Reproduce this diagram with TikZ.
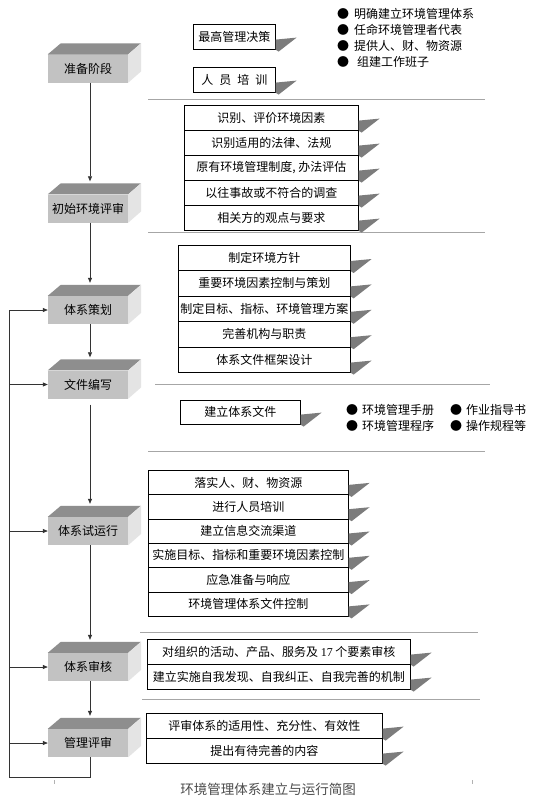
\documentclass[tikz,border=0pt]{standalone}
\usepackage{fontspec}
\setmainfont{Noto Sans CJK SC}
\newfontfamily\latinserif{Liberation Serif}
\usetikzlibrary{arrows.meta}
\definecolor{cubefront}{HTML}{C2C2C2}
\definecolor{cubetop}{HTML}{8E8E8E}
\definecolor{cubeside}{HTML}{E4E4E4}
\definecolor{flagc}{HTML}{7C7C7C}
\definecolor{sepc}{HTML}{A6A6A6}
\newcommand\cubefaces[1]{%
  \fill[cubetop] (#1.north west) -- ++(13pt,11pt) -- ++(80pt,0pt) -- (#1.north east) -- cycle;
  \fill[cubeside] (#1.north east) -- ++(13pt,11pt) -- ++(0pt,-28pt) -- (#1.south east) -- cycle;}
\newcommand\flagat[1]{%
  \fill[flagc] ([yshift=10pt]#1.south east) -- ++(21pt,2pt) -- ++(-18pt,-14pt) -- (#1.south east) -- cycle;}
\newcommand\rowb[6]{%
  \node[rowbox, minimum width=#4pt, minimum height=#5pt] (#1) at (#2,#3) {#6};
  \flagat{#1}}
\begin{document}
\begin{tikzpicture}[x=1pt,y=-1pt,
  txt/.style={font=\fontsize{12}{14}\selectfont},
  cube/.style={txt, fill=cubefront, minimum width=80pt, minimum height=28pt, inner sep=0pt},
  rowbox/.style={txt, draw=black, line width=0.6pt, fill=white, inner sep=0pt, anchor=north west},
  bul/.style={txt, anchor=west, inner sep=0pt},
  arr/.style={draw=black!80, line width=0.7pt, -{Triangle[length=5pt,width=4pt]}},
  ln/.style={draw=black!80, line width=0.7pt},
  sep/.style={draw=sepc, line width=0.8pt}]
\useasboundingbox[fill=white] (0,0) rectangle (541,800);

% stage cubes
\node[cube] (pa) at (88,68.5) {准备阶段}; \cubefaces{pa}
\node[cube] (cs) at (88,208.5) {初始环境评审}; \cubefaces{cs}
\node[cube] (ch) at (88,310) {体系策划}; \cubefaces{ch}
\node[cube] (wj) at (88,384.5) {文件编写}; \cubefaces{wj}
\node[cube] (sy) at (88,531) {体系试运行}; \cubefaces{sy}
\node[cube] (sh) at (88,667) {体系审核}; \cubefaces{sh}
\node[cube] (gl) at (88,743) {管理评审}; \cubefaces{gl}

% main flow
\draw[arr] ([xshift=2pt]pa.south) -- ([xshift=2pt,yshift=13pt]cs.north);
\draw[arr] ([xshift=2pt]cs.south) -- ([xshift=2pt,yshift=13pt]ch.north);
\draw[arr] ([xshift=2pt]ch.south) -- ([xshift=2pt,yshift=13pt]wj.north);
\draw[arr,shorten <=6pt] ([xshift=2pt]wj.south) -- ([xshift=2pt,yshift=13pt]sy.north);
\draw[arr] ([xshift=2pt]sy.south) -- ([xshift=2pt,yshift=13pt]sh.north);
\draw[arr] ([xshift=2pt]sh.south) -- ([xshift=2pt,yshift=13pt]gl.north);

% feedback loop
\coordinate (lb) at (9,777);
\coordinate (lt) at (9,310);
\draw[ln] ([xshift=2pt]gl.south) |- (lb) -- (lt);
\draw[arr] (lt) -- (ch.west);
\draw[arr] (lt |- wj.west) -- (wj.west);
\draw[arr] (lt |- sy.west) -- (sy.west);
\draw[arr] (lt |- sh.west) -- (sh.west);
\draw[arr] (lt |- gl.west) -- (gl.west);

% separators
\draw[sep] (148,99) -- (485,99);
\draw[sep] (148,232) -- (485,232);
\draw[sep] (155,384) -- (490,384);
\draw[sep] (148,451) -- (485,451);
\draw[sep] (140,632) -- (478,632);
\draw[sep] (142,699) -- (480,699);

% section 1
\rowb{s1a}{193}{24}{82}{25}{最高管理决策}
\rowb{s1b}{193}{67}{82}{25}{人\hspace{6pt}员\hspace{6pt}培\hspace{6pt}训}
\node[bul] (b1) at (337,14) {●\hspace{5pt}明确建立环境管理体系};
\node[bul] (b2) at (337,30) {●\hspace{5pt}任命环境管理者代表};
\node[bul] (b3) at (337,46) {●\hspace{5pt}提供人、财、物资源};
\node[bul] (b4) at (337,62) {●\hspace{8pt}组建工作班子};

% section 2
\rowb{s2a}{184}{105}{174}{25}{识别、评价环境因素}
\rowb{s2b}{184}{130}{174}{25}{识别适用的法律、法规}
\rowb{s2c}{184}{155}{174}{25}{原有环境管理制度, 办法评估}
\rowb{s2d}{184}{180}{174}{25}{以往事故或不符合的调查}
\rowb{s2e}{184}{205}{174}{25}{相关方的观点与要求}

% section 3
\rowb{s3a}{178}{245}{172}{25.4}{制定环境方针}
\rowb{s3b}{178}{270.4}{172}{25.4}{重要环境因素控制与策划}
\rowb{s3c}{178}{295.8}{172}{25.4}{制定目标、指标、环境管理方案}
\rowb{s3d}{178}{321.2}{172}{25.4}{完善机构与职责}
\rowb{s3e}{178}{346.6}{172}{25.4}{体系文件框架设计}

% section 4
\rowb{s4a}{180}{400}{120}{24}{建立体系文件}
\node[bul] (c1) at (346,410) {●\hspace{4pt}环境管理手册};
\node[bul] (c2) at (450,410) {●\hspace{4pt}作业指导书};
\node[bul] (c3) at (346,426) {●\hspace{4pt}环境管理程序};
\node[bul] (c4) at (450,426) {●\hspace{4pt}操作规程等};

% section 5
\rowb{s5a}{148}{470}{200}{24.3}{落实人、财、物资源}
\rowb{s5b}{148}{494.3}{200}{24.3}{进行人员培训}
\rowb{s5c}{148}{518.6}{200}{24.3}{建立信息交流渠道}
\rowb{s5d}{148}{542.9}{200}{24.3}{实施目标、指标和重要环境因素控制}
\rowb{s5e}{148}{567.2}{200}{24.3}{应急准备与响应}
\rowb{s5f}{148}{591.5}{200}{24.3}{环境管理体系文件控制}

% section 6
\rowb{s6a}{147}{639}{263}{25}{对组织的活动、产品、服务及 {\latinserif 17} 个要素审核}
\rowb{s6b}{147}{664}{263}{25}{建立实施自我发现、自我纠正、自我完善的机制}

% section 7
\rowb{s7a}{146}{713}{236}{25}{评审体系的适用性、充分性、有效性}
\rowb{s7b}{146}{738}{236}{25}{提出有待完善的内容}

% caption
\node[font=\fontsize{13.5}{15}\selectfont, text=black!70] (cap) at (268,789) {环境管理体系建立与运行简图};
\draw[black!30] (54,780) -- (54,784);
\draw[black!30] (472,780) -- (472,784);
\end{tikzpicture}
\end{document}
